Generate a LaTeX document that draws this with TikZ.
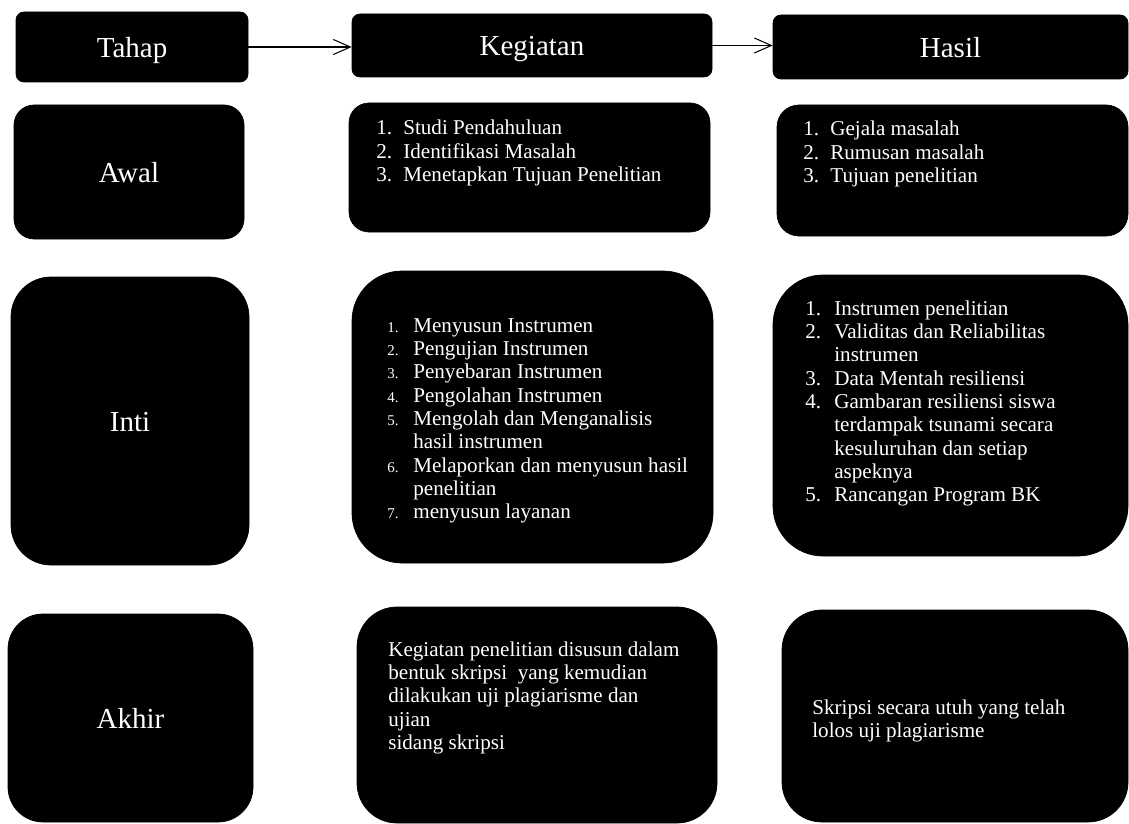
\documentclass[tikz,border=0pt]{standalone}
\usepackage{fontspec}
\setmainfont{Liberation Serif}
\usetikzlibrary{arrows.meta,positioning}
\newcommand{\smnum}[1]{{\fontsize{8.5}{10}\selectfont #1}}

\begin{document}
\begin{tikzpicture}[x=.2mm,y=-.2mm,>={Straight Barb[length=3.4mm,width=3mm]},
 box/.style={fill=black,draw=black,inner sep=0pt,text=white,text height=14pt,text depth=2.6pt,
  font=\fontsize{16.5}{19}\selectfont},
 txt/.style={text=white,inner sep=0pt,anchor=base west,font=\fontsize{12}{13.3}\selectfont}]
 \useasboundingbox (0,0) rectangle (1129,824);
 \foreach \n/\xa/\ya/\xb/\yb/\r/\t in {
  tahap/16/12/248/82/8/Tahap, kegiatan/352/14/712/77/8/Kegiatan, hasil/773/15/1128/79/8/Hasil,
  awal/14/105/244/239/20/Awal, kgawal/349/103/710/232/20/{}, hsawal/777/105/1128/236/22/{},
  inti/11/277/249/565/40/Inti, kginti/352/271/713/563/50/{}, hsinti/773/275/1128/556/50/{},
  akhir/8/614/253/822/35/Akhir, kgakhir/357/607/717/823/40/{}, hsakhir/782/610/1128/822/40/{}}{
  \pgfmathsetmacro\bw{(\xb-\xa)*.2}
  \pgfmathsetmacro\bh{(\yb-\ya)*.2}
  \pgfmathsetmacro\rr{\r*.2}
  \node[box,rounded corners=\rr mm,minimum width=\bw mm,minimum height=\bh mm] (\n)
   at ({(\xa+\xb)/2},{(\ya+\yb)/2}) {\t};
 }
 \draw[->,line width=.6pt] (tahap.east) -- (tahap.east -| kegiatan.west);
 \draw[->,line width=.6pt] (kegiatan.east) -- (kegiatan.east -| hasil.west);
 \node[txt] (kgawaltxt) at (376,135) {\begin{tabular}[t]{@{}p{5.4mm}@{}l@{}}
  1.&Studi Pendahuluan\\2.&Identifikasi Masalah\\3.&Menetapkan Tujuan Penelitian\end{tabular}};
 \node[txt] (hsawaltxt) at (803,136) {\begin{tabular}[t]{@{}p{5.4mm}@{}l@{}}
  1.&Gejala masalah\\2.&Rumusan masalah\\3.&Tujuan penelitian\end{tabular}};
 \node[txt] (kgintitxt) at (387,332) {\begin{tabular}[t]{@{}p{5.2mm}@{}l@{}}
  \smnum{1.}&Menyusun Instrumen\\\smnum{2.}&Pengujian Instrumen\\
  \smnum{3.}&Penyebaran Instrumen\\\smnum{4.}&Pengolahan Instrumen\\
  \smnum{5.}&Mengolah dan Menganalisis\\&hasil instrumen\\
  \smnum{6.}&Melaporkan dan menyusun hasil\\&penelitian\\
  \smnum{7.}&menyusun layanan\end{tabular}};
 \node[txt] (hsintitxt) at (805,315) {\begin{tabular}[t]{@{}p{5.8mm}@{}l@{}}
  1.&Instrumen penelitian\\2.&Validitas dan Reliabilitas\\&instrumen\\
  3.&Data Mentah resiliensi\\4.&Gambaran resiliensi siswa\\&terdampak tsunami secara\\
  &kesuluruhan dan setiap\\&aspeknya\\5.&Rancangan Program BK\end{tabular}};
 \node[txt] (kgakhirtxt) at (388,656) {\begin{tabular}[t]{@{}l@{}}
  Kegiatan penelitian disusun dalam\\bentuk skripsi~ yang kemudian\\
  dilakukan uji plagiarisme dan\\ujian\\sidang skripsi\end{tabular}};
 \node[txt] (hsakhirtxt) at (812,714) {\begin{tabular}[t]{@{}l@{}}
  Skripsi secara utuh yang telah\\lolos uji plagiarisme\end{tabular}};
\end{tikzpicture}
\end{document}
